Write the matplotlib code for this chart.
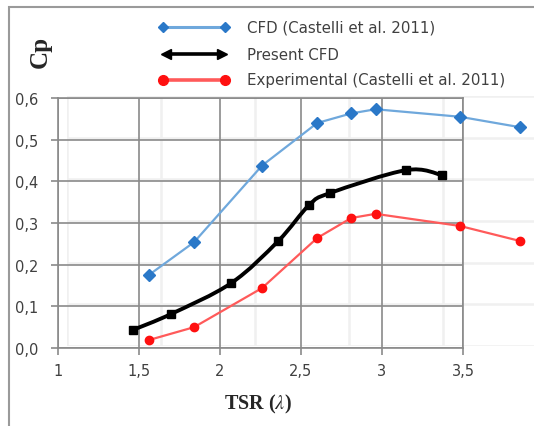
import numpy as np
import matplotlib.pyplot as plt
from matplotlib.path import Path
from matplotlib.patches import PathPatch, Rectangle
from matplotlib.lines import Line2D
from matplotlib.ticker import FuncFormatter

# ── data ────────────────────────────────────────────────────────────────────
tsr_castelli = [1.56, 1.84, 2.26, 2.60, 2.81, 2.96, 3.48, 3.85]
cp_cfd_castelli = [0.175, 0.254, 0.438, 0.540, 0.563, 0.573, 0.555, 0.530]
cp_exp_castelli = [0.019, 0.050, 0.144, 0.264, 0.312, 0.322, 0.293, 0.257]

tsr_present = [1.46, 1.70, 2.07, 2.36, 2.55, 2.68, 3.15, 3.37]
cp_present = [0.043, 0.082, 0.156, 0.257, 0.343, 0.372, 0.427, 0.415]

XTICKS = [1, 1.5, 2, 2.5, 3, 3.5]
YTICKS = [0.0, 0.1, 0.2, 0.3, 0.4, 0.5, 0.6]

BLUE_LINE, BLUE_MK = '#6fa8dc', '#2a78c8'
RED_LINE, RED_MK = '#ff5a5a', '#ff1010'
GRID = '#8a8a8a'
FAINT = '#f0f0f0'
TXT = '#404040'

plt.rcParams['mathtext.fontset'] = 'stix'

W, H = 534, 427
fig = plt.figure(figsize=(W / 100, H / 100), dpi=100)


def px_axes(x0, y0, x1, y1, **kw):
    return fig.add_axes([x0 / W, 1 - y1 / H, (x1 - x0) / W, (y1 - y0) / H], **kw)


# faint background grid (secondary layer from the original spreadsheet chart)
bg = px_axes(67, 97, 545, 347)
bg.set_xlim(0, (545 - 67) / 94)
bg.set_ylim(0, 0.6)
bg.set_xticks([0, 1, 2, 3, 4, 5])
bg.set_yticks(YTICKS)
bg.grid(True, color=FAINT, lw=1.8)
bg.tick_params(length=0, labelleft=False, labelbottom=False)
for s in bg.spines.values():
    s.set_visible(False)
bg.patch.set_alpha(0)

ax = px_axes(58, 99, 463, 349)
ax.patch.set_alpha(0)
ax.set_xlim(1, 3.5)
ax.set_ylim(0, 0.6)
ax.set_xticks(XTICKS)
ax.set_yticks(YTICKS)
ax.grid(True, color=GRID, lw=1.2, zorder=0)
for s in ax.spines.values():
    s.set_color(GRID)
    s.set_linewidth(1.2)
ax.tick_params(direction='out', length=5, width=1.2, color=GRID,
               labelsize=10.5, labelcolor=TXT)
ax.tick_params(axis='x', pad=6)
ax.tick_params(axis='y', pad=9)
ax.xaxis.set_major_formatter(FuncFormatter(lambda v, p: f'{v:g}'.replace('.', ',')))
ax.yaxis.set_major_formatter(FuncFormatter(lambda v, p: f'{v:.1f}'.replace('.', ',')))

# Castelli CFD / experimental
ax.plot(tsr_castelli, cp_cfd_castelli, color=BLUE_LINE, lw=1.6, marker='D',
        ms=6, mfc=BLUE_MK, mec=BLUE_MK, clip_on=False, zorder=3)
ax.plot(tsr_castelli, cp_exp_castelli, color=RED_LINE, lw=1.6, marker='o',
        ms=6, mfc=RED_MK, mec=RED_MK, clip_on=False, zorder=3)


# present CFD: smoothed line (Catmull-Rom as bezier) + square markers
def smooth_path(xs, ys, t=1 / 6):
    p = np.column_stack([xs, ys])
    verts, codes = [p[0]], [Path.MOVETO]
    for i in range(len(p) - 1):
        p0 = p[i - 1] if i > 0 else p[i]
        p3 = p[i + 2] if i + 2 < len(p) else p[i + 1]
        c1 = p[i] + (p[i + 1] - p0) * t
        c2 = p[i + 1] - (p3 - p[i]) * t
        verts += [c1, c2, p[i + 1]]
        codes += [Path.CURVE4] * 3
    return Path(verts, codes)


ax.add_patch(PathPatch(smooth_path(tsr_present, cp_present), fc='none',
                       ec='black', lw=2.8, zorder=4, clip_on=False))
ax.plot(tsr_present, cp_present, ls='none', marker='s', ms=6, color='black',
        zorder=5, clip_on=False)

# legend (drawn by hand: markers at both ends, arrows for the smoothed line)
lx0, lx1, tx = 163 / W, 225 / W, 247 / W
rows = [(1 - 28 / H, 'CFD (Castelli et al. 2011)'),
        (1 - 55 / H, 'Present CFD'),
        (1 - 81 / H, 'Experimental (Castelli et al. 2011)')]
y0, y1, y2 = [r[0] for r in rows]
fig.add_artist(Line2D([lx0, lx1], [y0, y0], color=BLUE_LINE, lw=2.2, marker='D',
                      ms=5, mfc=BLUE_MK, mec=BLUE_MK, transform=fig.transFigure))
fig.add_artist(Line2D([lx0, lx1], [y2, y2], color=RED_LINE, lw=2.6, marker='o',
                      ms=7, mfc=RED_MK, mec=RED_MK, transform=fig.transFigure))
fig.add_artist(Line2D([lx0 + 0.01, lx1 - 0.01], [y1, y1], color='black', lw=2.6,
                      transform=fig.transFigure))
fig.add_artist(Line2D([lx0 + 0.006], [y1], marker='<', ms=7, color='black',
                      transform=fig.transFigure))
fig.add_artist(Line2D([lx1 - 0.006], [y1], marker='>', ms=7, color='black',
                      transform=fig.transFigure))
for y, label in rows:
    fig.text(tx, y, label, fontsize=10.8, color=TXT, va='center', ha='left')

# axis titles
fig.text(40 / W, 1 - 52 / H, 'Cp', rotation=90, ha='center', va='center',
         fontsize=18, fontweight='bold', family='Liberation Serif', color='#262626')
fig.text(258 / W, 1 - 404 / H, r'TSR ($\lambda$)', ha='center', va='center',
         fontsize=14.5, fontweight='bold', family='Liberation Serif', color='#262626')

# outer frame (only the top and left edges are in view)
fig.add_artist(Rectangle((9 / W, -0.1), 1.2, 1 - 8 / H + 0.1, fill=False,
                         ec='#9a9a9a', lw=1.5, transform=fig.transFigure))

fig.savefig('out.png', dpi=100)
